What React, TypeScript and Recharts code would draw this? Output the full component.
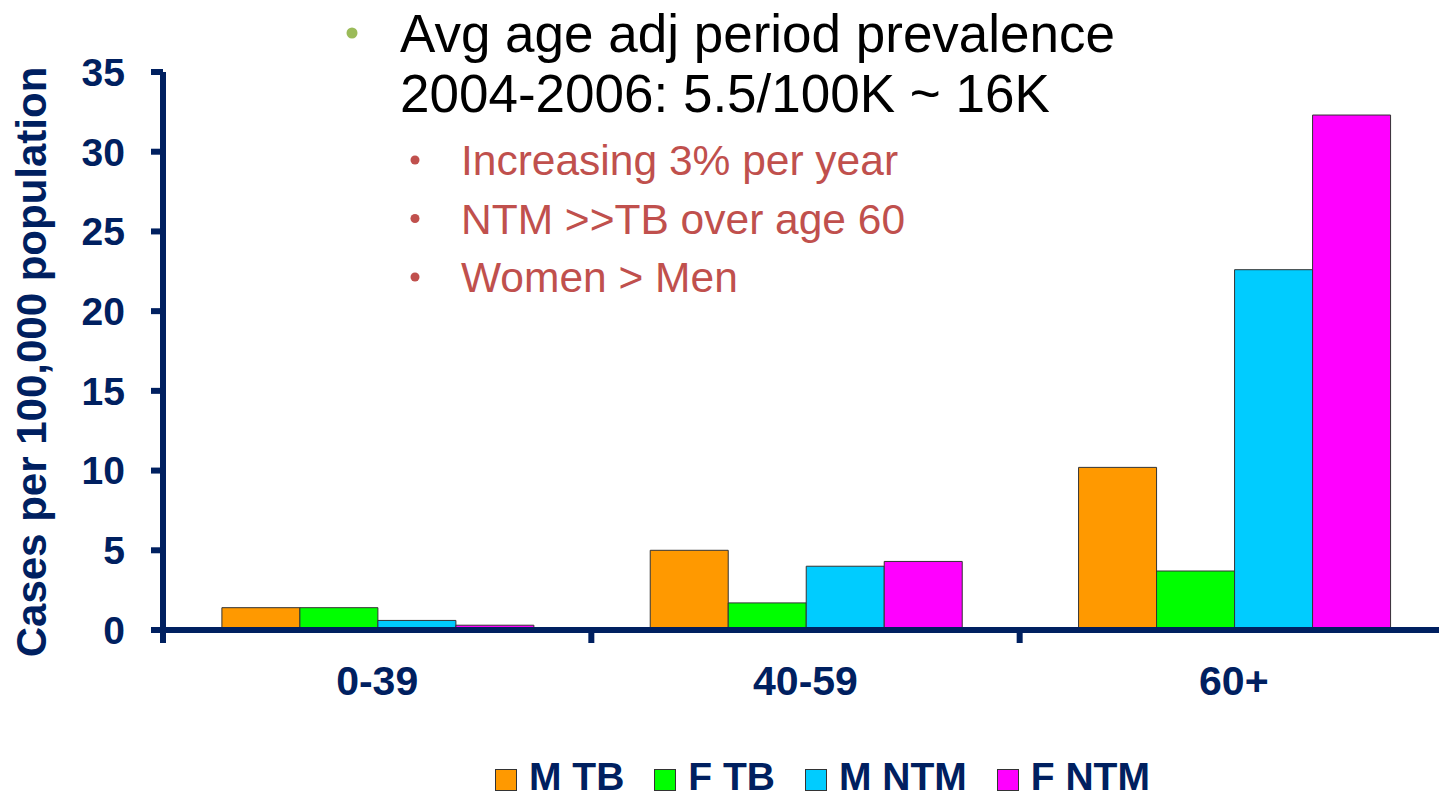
import React from 'react';
import { BarChart, Bar, XAxis, YAxis, Legend, Label } from 'recharts';

const ageGroups = ['0-39', '40-59', '60+'];
const maleTB = [1.4, 5.0, 10.2];
const femaleTB = [1.4, 1.7, 3.7];
const maleNTM = [0.6, 4.0, 22.6];
const femaleNTM = [0.3, 4.3, 32.3];
const yTicks = [0, 5, 10, 15, 20, 25, 30, 35];

const seriesKeys = ['mTB', 'fTB', 'mNTM', 'fNTM'];
const seriesNames = ['M TB', 'F TB', 'M NTM', 'F NTM'];
const seriesColors = ['#FF9900', '#00FF00', '#00CCFF', '#FF00FF'];

const headline = ['Avg age adj period prevalence', '2004-2006: 5.5/100K ~ 16K'];
const subPoints = ['Increasing 3% per year', 'NTM >>TB over age 60', 'Women > Men'];

const data = ageGroups.map((group, i) => ({
  group,
  mTB: maleTB[i],
  fTB: femaleTB[i],
  mNTM: maleNTM[i],
  fNTM: femaleNTM[i],
}));

const NAVY = '#002060';
const FONT = "'Liberation Sans', Arial, sans-serif";

const CategoryTick = (props: any) => {
  const { x, y, payload, width, visibleTicksCount } = props;
  const half = payload.offset ?? width / visibleTicksCount / 2;
  const left = x - half;
  return (
    <g>
      <line x1={left} x2={left} y1={y} y2={y + 13} stroke={NAVY} strokeWidth={6} />
      <text
        x={x}
        y={y + 65}
        textAnchor="middle"
        fill={NAVY}
        fontSize={41}
        fontWeight={700}
        fontFamily={FONT}
      >
        {payload.value}
      </text>
    </g>
  );
};

// legend drawn in series order (recharts would sort it by name)
const renderLegend = () => (
  <div style={{ display: 'flex', alignItems: 'center', gap: 30, fontFamily: FONT }}>
    {seriesNames.map((name, i) => (
      <div key={name} style={{ display: 'flex', alignItems: 'center' }}>
        <span
          style={{
            display: 'inline-block',
            width: 22,
            height: 22,
            background: seriesColors[i],
            border: '1.5px solid #333',
            boxSizing: 'border-box',
            marginRight: 12,
            position: 'relative',
            top: 3,
          }}
        />
        <span style={{ fontSize: 39, lineHeight: '30px', fontWeight: 700, color: NAVY, whiteSpace: 'nowrap' }}>
          {name}
        </span>
      </div>
    ))}
  </div>
);

const App: React.FC = () => {
  return (
    <div
      style={{
        position: 'fixed',
        left: 0,
        top: 0,
        width: 1439,
        height: 799,
        overflow: 'hidden',
        background: '#fff',
      }}
    >
      <BarChart
        width={1468}
        height={799}
        data={data}
        margin={{ top: 72, right: 20, bottom: 109, left: 0 }}
        barCategoryGap="13.75%"
        barGap={0}
      >
        <XAxis
          dataKey="group"
          height={60}
          axisLine={{ stroke: NAVY, strokeWidth: 6 }}
          tickLine={false}
          tickSize={0}
          tickMargin={0}
          tick={<CategoryTick />}
          interval={0}
        />
        <YAxis
          width={163}
          domain={[0, 35]}
          ticks={yTicks}
          interval={0}
          axisLine={{ stroke: NAVY, strokeWidth: 6 }}
          tickLine={{ stroke: NAVY, strokeWidth: 6 }}
          tickSize={12}
          tickMargin={26}
          tick={{ fill: NAVY, fontSize: 39, fontWeight: 700, fontFamily: FONT }}
        >
          <Label
            content={() => (
              <text
                x={31}
                y={362}
                transform="rotate(-90 31 362)"
                textAnchor="middle"
                dominantBaseline="central"
                fill={NAVY}
                fontSize={42}
                fontWeight={700}
                fontFamily={FONT}
              >
                Cases per 100,000 population
              </text>
            )}
          />
        </YAxis>
        <Legend
          layout="horizontal"
          verticalAlign="middle"
          align="center"
          wrapperStyle={{ top: 762, left: 495, width: 760, height: 32 }}
          content={renderLegend}
        />
        {seriesKeys.map((key, i) => (
          <Bar
            key={key}
            dataKey={key}
            name={seriesNames[i]}
            fill={seriesColors[i]}
            stroke="#333"
            strokeWidth={1}
            isAnimationActive={false}
          />
        ))}
      </BarChart>

      <svg
        width={1439}
        height={320}
        style={{ position: 'absolute', left: 0, top: 0, pointerEvents: 'none' }}
        fontFamily={FONT}
      >
        <circle cx={352} cy={33} r={5.5} fill="#9BBB59" />
        {headline.map((line, i) => (
          <text key={line} x={400} y={52 + i * 60} fontSize={53} fill="#000">
            {line}
          </text>
        ))}
        {subPoints.map((line, i) => (
          <g key={line}>
            <circle cx={415} cy={160 + i * 58.5} r={4.5} fill="#C0504D" />
            <text x={461} y={175 + i * 58.5} fontSize={42.5} fill="#C0504D">
              {line}
            </text>
          </g>
        ))}
      </svg>
    </div>
  );
};

export default App;
